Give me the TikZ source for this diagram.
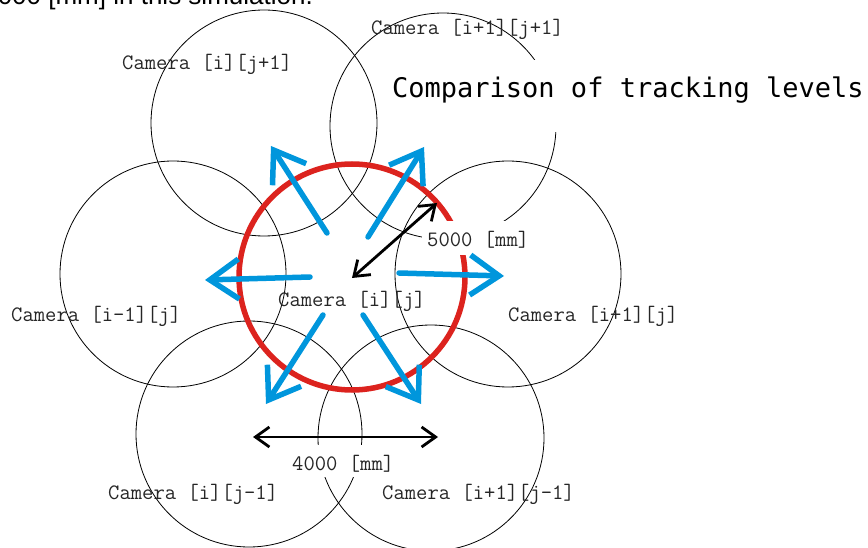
\documentclass[tikz,border=0pt]{standalone}
\usepackage{fontspec}
\usetikzlibrary{arrows.meta}
\newfontfamily\titlefont{DejaVu Sans Mono}
\newfontfamily\notefont{Liberation Sans}
\definecolor{trackred}{RGB}{220,35,30}
\definecolor{flowblue}{RGB}{0,150,220}
\tikzset{
	cam/.style={draw=black, line width=0.8pt},
	camlabel/.style={anchor=base west, inner sep=0pt, text=black!85, font={\ttfamily\fontsize{22}{22}\selectfont}},
	dimlabel/.style={camlabel, fill=white, inner xsep=5pt},
	flow/.style={draw=flowblue, line width=5.5pt, line cap=round, -{Straight Barb[length=29pt,width=40pt]}},
	dimarrow/.style={line width=2.8pt, {Straight Barb[length=14pt,width=20pt]}-{Straight Barb[length=14pt,width=20pt]}}
}
\begin{document}
\begin{tikzpicture}[x=1pt, y=-1pt]
	\clip (0,0) rectangle (868,548);
	% coverage of the neighbour cameras
	\foreach \n/\cx/\cy in {ij1/264/123, i1j1/443/126, im1j/173/274, i1j/508/274, ijm1/249/434, i1jm1/431/438}
		\draw[cam] (\cx,\cy) coordinate (c\n) circle[radius=113pt];
	% tracking level of the centre camera
	\coordinate (cij) at (352,277);
	\draw[trackred, line width=5.5pt] (cij) circle[radius=113pt];
	% labels
	\node[anchor=base east, inner sep=0pt, font={\notefont\fontsize{26}{26}\selectfont}] (note) at (313,5) {5000 [mm] in this simulation.};
	\node[anchor=base west, fill=white, inner xsep=8pt, inner ysep=0pt, text height=38pt, text depth=34pt,
		font={\titlefont\fontsize{27}{27}\selectfont}] (title) at (384,98) {Comparison of tracking levels};
	\node[camlabel] (l-i1j1) at (371,35) {Camera [i+1][j+1]};
	\node[camlabel] (l-ij1) at (122,70) {Camera [i][j+1]};
	\node[camlabel] (l-ij) at (278,306) {Camera [i][j]};
	\node[camlabel] (l-im1j) at (11,322) {Camera [i-1][j]};
	\node[camlabel] (l-i1j) at (508,321) {Camera [i+1][j]};
	\node[camlabel] (l-ijm1) at (108,499) {Camera [i][j-1]};
	\node[camlabel] (l-i1jm1) at (382,499) {Camera [i+1][j-1]};
	\node[dimlabel, text height=26pt, text depth=8pt] (l-r) at (422,247) {5000 [mm]};
	\node[dimlabel, text height=25pt, text depth=7pt] (l-d) at (287,470) {4000 [mm]};
	% moving directions
	\foreach \n/\sx/\sy/\tx/\ty in {ul/327/233/271/146, ur/368/237/424/147, l/310/277/205/280,
		r/399/273/504/276, dl/323/315/266/404, dr/363/315/421/404}{
		\coordinate (\n-s) at (\sx,\sy);
		\coordinate (\n-t) at (\tx,\ty);
		\draw[flow] (\n-s) -- (\n-t);
	}
	% radius and distance
	\coordinate (r0) at (352,278);
	\coordinate (r1) at (437,203);
	\coordinate (d0) at (253,437);
	\coordinate (d1) at (438,437);
	\draw[dimarrow] (r0) -- (r1);
	\draw[dimarrow] (d0) -- (d1);
\end{tikzpicture}
\end{document}
